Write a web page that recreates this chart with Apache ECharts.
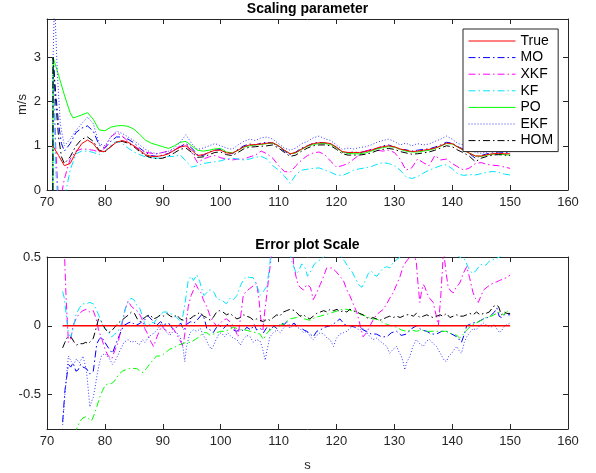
<!DOCTYPE html>
<html><head><meta charset="utf-8">
<script src="https://cdn.jsdelivr.net/npm/echarts@6/dist/echarts.min.js"></script>
<style>html,body{margin:0;padding:0;background:#fff}#c{width:596px;height:473px}</style>
</head><body><div id="c"></div>
<script>
// ---- tick labels ----
const xTickInterval = 10;
const yTopTicks = [0, 1, 2, 3];
const yErrTicks = [-0.5, 0, 0.5];
const legendNames = ['True', 'MO', 'XKF', 'KF', 'PO', 'EKF', 'HOM'];

// ---- top plot: scaling parameter [t, m/s] ----
const trueScale = [[71,1.0],[72,0.78],[73,0.55],[74,0.6],[75,0.85],[76,1.05],[77,1.13],[78,1.05],[79,0.88],[80,0.87],[81,0.98],[82,1.08],[83,1.12],[84,1.08],[85,1.0],[86,0.9],[87,0.8],[88,0.76],[89,0.76],[90,0.78],[91,0.82],[92,0.9],[93,0.97],[94,1.0],[95,0.9],[96,0.78],[97,0.8],[98,0.85],[99,0.9],[100,0.9],[101,0.84],[102,0.83],[103,0.9],[104,0.98],[105,1.02],[106,1.03],[107,1.04],[108,1.06],[109,1.07],[110,1.0],[111,0.9],[112,0.82],[113,0.85],[114,0.93],[115,1.0],[116,1.05],[117,1.07],[118,1.07],[119,1.05],[120,0.97],[121,0.87],[122,0.85],[123,0.85],[124,0.85],[125,0.87],[126,0.9],[127,0.95],[128,0.98],[129,1.0],[130,0.98],[131,0.93],[132,0.9],[133,0.87],[134,0.88],[135,0.9],[136,0.92],[137,0.95],[138,1.0],[139,1.06],[140,1.05],[141,0.97],[142,0.9],[143,0.83],[144,0.77],[145,0.77],[146,0.8],[147,0.82],[148,0.83],[149,0.82],[150,0.82]];
const moScale = [[71,0],[71.05,3.0],[71.5,2.2],[72,1.5],[72.5,1.05],[73,0.88],[74,1.05],[75,1.3],[76,1.4],[77,1.45],[78,1.33],[79,1.02],[80,0.95],[81,1.1],[82,1.2],[83,1.2],[84,1.15],[85,1.07],[86,0.95],[87,0.85],[88,0.78],[89,0.76],[90,0.79],[91,0.83],[92,0.9],[93,0.98],[94,1.05],[95,0.95],[96,0.8],[97,0.78],[98,0.86],[99,0.9],[100,0.92],[101,0.86],[102,0.82],[103,0.92],[104,1.0],[105,1.04],[106,1.02],[107,1.06],[108,1.08],[109,1.06],[110,0.98],[111,0.88],[112,0.8],[113,0.86],[114,0.95],[115,1.0],[116,1.06],[117,1.08],[118,1.06],[119,1.04],[120,0.96],[121,0.85],[122,0.84],[123,0.86],[124,0.84],[125,0.88],[126,0.92],[127,0.94],[128,1.0],[129,1.02],[130,0.97],[131,0.92],[132,0.91],[133,0.88],[134,0.9],[135,0.92],[136,0.93],[137,0.97],[138,1.02],[139,1.08],[140,1.06],[141,0.98],[142,0.92],[143,0.82],[144,0.72],[145,0.78],[146,0.82],[147,0.84],[148,0.86],[149,0.85],[150,0.84]];
const xkfScale = [[71,0],[71.05,3.0],[71.5,1.0],[72,-0.3],[72.5,-0.1],[73,0.25],[74,0.7],[75,0.88],[76,0.93],[77,0.92],[78,0.9],[79,0.86],[80,0.95],[81,1.2],[82,1.3],[83,1.22],[84,1.1],[85,1.0],[86,0.92],[87,0.86],[88,0.83],[89,0.82],[90,0.85],[91,0.88],[92,0.9],[93,1.0],[94,1.05],[95,0.85],[96,0.62],[97,0.7],[98,0.75],[99,0.78],[100,0.73],[101,0.7],[102,0.68],[103,0.7],[104,0.7],[105,0.75],[106,0.79],[107,0.88],[108,0.82],[109,0.72],[110,0.55],[111,0.42],[112,0.4],[113,0.55],[114,0.68],[115,0.78],[116,0.84],[117,0.86],[118,0.8],[119,0.65],[120,0.52],[121,0.55],[122,0.6],[123,0.7],[124,0.8],[125,0.88],[126,0.92],[127,0.9],[128,0.88],[129,0.9],[130,0.85],[131,0.7],[132,0.45],[133,0.5],[134,0.7],[135,0.62],[136,0.55],[137,0.78],[138,0.68],[139,0.7],[140,0.6],[141,0.52],[142,0.45],[143,0.5],[144,0.6],[145,0.62],[146,0.58],[147,0.56],[148,0.55],[149,0.52],[150,0.49]];
const kfScale = [[71,0],[71.05,3.0],[71.5,0.5],[72,-0.5],[73,-0.2],[74,0.45],[75,0.82],[76,0.88],[77,0.88],[78,0.85],[79,0.8],[80,0.88],[81,1.02],[82,1.1],[83,1.05],[84,0.95],[85,0.86],[86,0.8],[87,0.75],[88,0.73],[89,0.72],[90,0.73],[91,0.76],[92,0.76],[93,0.8],[94,0.65],[95,0.52],[96,0.55],[97,0.6],[98,0.62],[99,0.64],[100,0.66],[101,0.7],[102,0.72],[103,0.7],[104,0.68],[105,0.7],[106,0.74],[107,0.76],[108,0.7],[109,0.55],[110,0.45],[111,0.32],[112,0.15],[113,0.35],[114,0.45],[115,0.47],[116,0.49],[117,0.5],[118,0.45],[119,0.4],[120,0.34],[121,0.33],[122,0.38],[123,0.45],[124,0.48],[125,0.5],[126,0.53],[127,0.58],[128,0.62],[129,0.6],[130,0.55],[131,0.45],[132,0.3],[133,0.26],[134,0.3],[135,0.38],[136,0.45],[137,0.5],[138,0.55],[139,0.57],[140,0.48],[141,0.36],[142,0.33],[143,0.35],[144,0.34],[145,0.37],[146,0.4],[147,0.42],[148,0.4],[149,0.36],[150,0.34]];
const poScale = [[71,0],[71.05,3.0],[72,2.6],[73,2.15],[74,1.75],[74.5,1.63],[75,1.65],[76,1.7],[77,1.75],[78,1.6],[79,1.36],[80,1.34],[81,1.42],[82,1.45],[83,1.46],[84,1.44],[85,1.38],[86,1.26],[87,1.13],[88,1.06],[89,1.02],[90,0.98],[91,0.94],[92,1.0],[93,1.08],[94,1.1],[95,1.0],[96,0.9],[97,0.88],[98,0.9],[99,0.93],[100,0.94],[101,0.86],[102,0.84],[103,0.9],[104,0.97],[105,1.0],[106,1.02],[107,1.03],[108,1.05],[109,1.06],[110,1.0],[111,0.9],[112,0.82],[113,0.84],[114,0.92],[115,0.99],[116,1.03],[117,1.05],[118,1.05],[119,1.03],[120,0.96],[121,0.86],[122,0.83],[123,0.82],[124,0.82],[125,0.84],[126,0.88],[127,0.93],[128,0.96],[129,0.98],[130,0.97],[131,0.92],[132,0.88],[133,0.86],[134,0.86],[135,0.88],[136,0.9],[137,0.94],[138,0.99],[139,1.05],[140,1.04],[141,0.97],[142,0.9],[143,0.83],[144,0.77],[145,0.76],[146,0.79],[147,0.81],[148,0.81],[149,0.8],[150,0.79]];
const ekfScale = [[71,0],[71.05,3.0],[71.3,4.3],[71.8,2.6],[72.3,1.5],[73,1.0],[74,1.15],[75,1.35],[76,1.5],[77,1.65],[78,1.5],[79,1.05],[80,1.0],[81,1.2],[82,1.33],[83,1.28],[84,1.2],[85,1.12],[86,1.02],[87,0.92],[88,0.85],[89,0.82],[90,0.85],[91,0.88],[92,0.95],[93,1.08],[94,1.25],[95,1.05],[96,0.92],[97,0.95],[98,1.0],[99,1.05],[100,1.0],[101,0.95],[102,0.92],[103,1.02],[104,1.1],[105,1.15],[106,1.12],[107,1.18],[108,1.2],[109,1.15],[110,1.05],[111,0.95],[112,0.9],[113,0.95],[114,1.05],[115,1.1],[116,1.18],[117,1.22],[118,1.16],[119,1.12],[120,1.02],[121,0.92],[122,0.95],[123,0.93],[124,0.96],[125,0.98],[126,1.02],[127,1.08],[128,1.12],[129,1.15],[130,1.1],[131,1.02],[132,1.06],[133,1.0],[134,1.05],[135,1.02],[136,1.04],[137,1.1],[138,1.15],[139,1.22],[140,1.15],[141,1.05],[142,1.02],[143,0.92],[144,0.85],[145,0.83],[146,0.86],[147,0.88],[148,0.9],[149,0.88],[150,0.86]];
const homScale = [[71,0],[71.05,3.0],[71.5,2.0],[72,1.2],[72.5,0.75],[73,0.6],[74,0.75],[75,1.0],[76,1.15],[77,1.2],[78,1.1],[79,0.9],[80,0.86],[81,0.98],[82,1.08],[83,1.1],[84,1.06],[85,0.98],[86,0.87],[87,0.78],[88,0.73],[89,0.71],[90,0.72],[91,0.77],[92,0.84],[93,0.92],[94,0.95],[95,0.85],[96,0.74],[97,0.75],[98,0.8],[99,0.85],[100,0.86],[101,0.8],[102,0.78],[103,0.85],[104,0.93],[105,0.97],[106,0.98],[107,0.99],[108,1.0],[109,1.02],[110,0.95],[111,0.85],[112,0.76],[113,0.79],[114,0.88],[115,0.95],[116,1.0],[117,1.02],[118,1.02],[119,1.0],[120,0.92],[121,0.82],[122,0.79],[123,0.79],[124,0.79],[125,0.81],[126,0.84],[127,0.89],[128,0.92],[129,0.94],[130,0.92],[131,0.87],[132,0.84],[133,0.81],[134,0.82],[135,0.84],[136,0.86],[137,0.9],[138,0.95],[139,1.0],[140,0.98],[141,0.9],[142,0.84],[143,0.76],[144,0.64],[145,0.72],[146,0.76],[147,0.79],[148,0.8],[149,0.79],[150,0.78]];

// ---- bottom plot: error [t, error] ----
const trueErr = [[72.7,0],[150,0]];
const moErr = [[72.7,-0.7],[73.1,-0.47],[73.7,-0.28],[74.1,-0.3],[74.5,-0.27],[75,-0.33],[75.4,-0.32],[75.8,-0.28],[76.2,-0.3],[76.8,-0.31],[77.4,-0.35],[78,-0.33],[78.6,-0.13],[79,-0.1],[79.4,-0.08],[80,-0.12],[80.6,-0.16],[81.3,-0.2],[82,-0.12],[82.6,-0.06],[83.2,0],[84,0.02],[84.6,0.03],[85.3,0],[86.1,0.02],[86.8,0.04],[87.5,0.07],[88.2,0.04],[88.9,0],[89.6,0.03],[90.3,0.01],[91,0.02],[91.7,-0.02],[92.4,-0.01],[93.1,0.02],[93.6,-0.03],[94.1,0.01],[94.8,0.03],[95.4,0.02],[95.9,0.04],[96.7,0.08],[97.2,0.05],[97.6,-0.02],[98.2,-0.03],[98.7,-0.05],[99.3,-0.01],[99.8,0],[100.5,-0.02],[101.1,0.01],[101.6,0],[102.2,-0.03],[102.8,-0.04],[103.4,-0.02],[104,-0.04],[104.5,-0.01],[105.2,-0.03],[105.8,0.01],[106.2,-0.03],[106.9,-0.02],[107.4,-0.05],[108,-0.01],[108.6,-0.03],[109.2,0],[109.7,-0.02],[110.4,0.02],[111,0.01],[111.4,0.03],[112,0],[112.7,0.02],[113.1,0],[113.7,0.01],[114.3,-0.03],[114.9,-0.04],[115.5,-0.06],[116,-0.08],[116.6,-0.04],[117.2,-0.03],[118,-0.01],[118.9,0],[119.7,0.02],[120.6,0.05],[121.4,0.01],[122.3,0],[123.2,-0.01],[124,0],[124.6,-0.03],[125.2,-0.04],[126,-0.06],[126.9,-0.06],[127.8,-0.08],[128.7,-0.08],[129.5,-0.05],[130.4,-0.04],[131.2,-0.07],[132.1,-0.06],[133,-0.02],[133.8,0],[134.7,-0.03],[135.6,-0.04],[136.4,-0.06],[137.3,-0.06],[138.2,-0.04],[139,-0.04],[139.9,-0.06],[140.8,-0.08],[141.6,-0.12],[142.1,-0.06],[142.5,0],[143,0.01],[143.6,0.02],[144.5,0.03],[145.4,0.05],[146.1,0.06],[146.8,0.08],[147.3,0.1],[147.7,0.13],[148.1,0.07],[148.5,0.06],[149,0.08],[149.4,0.08],[150,0.08]];
const xkfErr = [[72.7,0.8],[73,0.55],[73.3,0.2],[73.7,-0.12],[74.1,-0.1],[74.5,0],[75,0.05],[75.6,0.09],[76.2,0.11],[76.8,0.12],[77.4,0.1],[78,0.11],[78.5,0.05],[78.9,-0.03],[79.5,-0.1],[80.1,-0.18],[80.6,-0.22],[81.2,-0.24],[81.7,-0.18],[82.3,-0.12],[82.9,0],[83.5,0.12],[84,0.18],[84.6,0.14],[85.2,0.12],[85.8,0.1],[86.4,0.05],[86.9,-0.02],[87.5,-0.07],[88,-0.12],[88.4,-0.15],[89,-0.08],[89.8,0],[90.4,-0.03],[91.2,-0.05],[91.8,-0.02],[92.4,-0.06],[92.9,-0.1],[93.5,-0.15],[94,0],[94.4,0.14],[94.9,0.22],[95.3,0.26],[95.6,0.31],[96.1,0.27],[96.6,0.24],[97,0.19],[97.6,0.14],[98.1,0.08],[98.4,0.05],[98.9,0.02],[99.3,0],[99.8,0.01],[100.4,0.04],[101,0.05],[101.6,0.03],[102.2,0],[102.6,-0.04],[103,-0.08],[103.4,0.05],[103.9,0.22],[104.4,0.25],[105,0.27],[105.6,0.29],[106.2,0.31],[106.6,0.2],[107,0.02],[107.3,-0.03],[107.6,0.1],[107.9,0.2],[108.3,0.35],[108.8,0.52],[109.5,0.8],[110.5,0.9],[111.5,0.85],[112.3,0.65],[112.6,0.45],[113,0.36],[113.4,0.3],[113.7,0.28],[114.3,0.26],[114.9,0.3],[115.5,0.28],[116,0.19],[116.6,0.24],[117.2,0.3],[117.8,0.36],[118.3,0.42],[118.6,0.43],[119.2,0.42],[119.8,0.4],[120.6,0.36],[121.2,0.33],[121.8,0.26],[122.3,0.22],[122.9,0.16],[123.5,0.1],[124,0.02],[124.6,-0.08],[125.2,-0.05],[125.8,0],[126.3,0.04],[126.9,0.08],[127.5,0.1],[128.1,0.12],[128.7,0.16],[129.2,0.2],[129.8,0.24],[130.4,0.3],[131,0.36],[131.5,0.43],[132.1,0.47],[132.7,0.5],[133.2,0.55],[133.8,0.46],[134.1,0.3],[134.4,0.17],[134.7,0.25],[135,0.3],[135.3,0.28],[135.6,0.24],[136.1,0.2],[136.7,0.17],[137.2,0.08],[137.6,0],[138,0.2],[138.5,0.55],[138.9,0.4],[139.3,0.28],[139.8,0.25],[140.2,0.24],[140.7,0.28],[141.3,0.31],[141.9,0.38],[142.5,0.43],[143,0.35],[143.6,0.24],[144,0.2],[144.5,0.17],[145,0.22],[145.4,0.26],[146,0.28],[146.6,0.3],[147.1,0.31],[147.7,0.32],[148.2,0.33],[148.8,0.34],[149.4,0.35],[150,0.37]];
const kfErr = [[72.7,0.25],[73,0.2],[73.4,0.05],[73.7,-0.06],[74.1,-0.08],[74.5,-0.02],[75,0.08],[75.6,0.13],[76.2,0.16],[76.8,0.16],[77.4,0.17],[78,0.16],[78.5,0.12],[79.1,0.06],[79.6,0.01],[80.1,-0.02],[80.6,-0.05],[81.2,-0.08],[81.7,-0.06],[82.3,-0.04],[82.9,0.02],[83.5,0.12],[84,0.17],[84.5,0.2],[85,0.19],[85.5,0.15],[86,0.13],[86.5,0.07],[86.9,0.01],[87.5,-0.01],[88,0.03],[88.4,0.02],[89,0.05],[89.6,0.08],[90.1,0.1],[90.7,0.1],[91.2,0.09],[91.8,0.08],[92.4,0.06],[92.9,0.04],[93.3,0.03],[93.8,0.15],[94.4,0.33],[94.9,0.36],[95.3,0.33],[95.9,0.37],[96.4,0.32],[96.8,0.26],[97.1,0.22],[97.6,0.24],[98,0.26],[98.4,0.26],[98.9,0.24],[99.3,0.2],[99.8,0.19],[100.4,0.18],[101,0.16],[101.6,0.2],[102.2,0.19],[102.8,0.22],[103.4,0.29],[103.9,0.33],[104.5,0.36],[105,0.35],[105.6,0.35],[106.2,0.3],[106.8,0.22],[107.4,0.25],[108,0.29],[108.5,0.45],[109,0.7],[110,0.85],[111,0.8],[111.8,0.6],[112.2,0.48],[112.7,0.42],[113.1,0.38],[113.5,0.4],[114,0.45],[114.6,0.42],[115,0.36],[115.6,0.4],[116.2,0.45],[116.8,0.47],[117.2,0.48],[117.8,0.5],[118.3,0.52],[119,0.55],[120,0.55],[120.8,0.5],[121.4,0.47],[122,0.43],[122.6,0.4],[123.2,0.35],[123.8,0.3],[124.4,0.28],[125,0.33],[125.5,0.38],[126,0.4],[126.5,0.37],[127,0.36],[127.5,0.39],[128.1,0.42],[128.7,0.43],[129.2,0.42],[129.8,0.46],[130.4,0.48],[131,0.5],[131.5,0.52],[133,0.58],[135,0.6],[137,0.56],[138.4,0.52],[139,0.55],[140,0.53],[141.3,0.5],[142.2,0.48],[142.8,0.42],[143.5,0.38],[144.1,0.4],[144.6,0.43],[145.2,0.45],[145.8,0.44],[146.4,0.47],[147,0.48],[147.6,0.49],[148.2,0.5],[148.8,0.52],[149.4,0.55],[150,0.56]];
const poErr = [[72.7,-1.2],[73.5,-1.05],[74.3,-0.9],[75.1,-0.75],[75.6,-0.7],[76.2,-0.67],[76.8,-0.66],[77.3,-0.68],[77.7,-0.69],[78.2,-0.64],[78.6,-0.59],[79.1,-0.52],[79.6,-0.47],[80.1,-0.43],[80.6,-0.42],[81.1,-0.42],[81.5,-0.41],[82,-0.38],[82.5,-0.35],[83,-0.33],[83.6,-0.32],[84.3,-0.31],[84.9,-0.31],[85.5,-0.31],[86.1,-0.33],[86.6,-0.34],[87.2,-0.31],[87.7,-0.28],[88.3,-0.25],[88.9,-0.22],[89.4,-0.22],[90,-0.21],[90.6,-0.19],[91.2,-0.17],[91.9,-0.16],[92.7,-0.14],[93.4,-0.13],[94.1,-0.12],[94.8,-0.12],[95.6,-0.1],[96.3,-0.08],[97,-0.05],[97.6,-0.05],[98.2,-0.07],[98.8,-0.06],[99.3,-0.05],[100,-0.04],[100.6,-0.04],[101.4,-0.03],[102.2,-0.01],[102.8,-0.02],[103.4,-0.03],[104.2,-0.03],[105.1,-0.04],[106,-0.05],[106.8,-0.06],[107.4,-0.1],[107.9,-0.06],[108.5,-0.03],[109.3,-0.01],[110.2,0],[111.1,0.02],[112,0.05],[113.1,0.06],[113.7,0.07],[114.5,0.05],[115.4,0.04],[116.3,0.06],[117.2,0.07],[118,0.08],[118.9,0.09],[119.5,0.1],[120.3,0.11],[121,0.12],[121.8,0.12],[122.6,0.11],[123.5,0.1],[124.3,0.08],[125.2,0.07],[126,0.05],[126.9,0.05],[127.8,0.03],[128.7,0.01],[129.5,0],[130.4,-0.01],[131.2,-0.03],[132.1,-0.04],[133,-0.03],[133.8,-0.04],[134.7,-0.03],[135.6,-0.04],[136.7,-0.04],[137.8,-0.04],[139,-0.04],[140.1,-0.06],[140.8,-0.07],[141.3,-0.09],[141.9,-0.06],[142.5,-0.03],[143.3,0],[144.2,0.02],[145,0.04],[145.8,0.06],[146.7,0.07],[147.7,0.09],[148.2,0.1],[148.8,0.08],[149.4,0.1],[150,0.12]];
const ekfErr = [[72.7,-0.72],[73.1,-0.5],[73.5,-0.3],[73.7,-0.22],[74.2,-0.26],[74.6,-0.28],[75.1,-0.24],[75.6,-0.27],[76.2,-0.22],[76.5,-0.27],[76.8,-0.32],[77.1,-0.45],[77.4,-0.59],[77.7,-0.55],[78,-0.52],[78.3,-0.45],[78.6,-0.37],[79,-0.28],[79.4,-0.22],[80,-0.2],[80.8,-0.24],[81.3,-0.28],[81.7,-0.26],[82.2,-0.22],[82.6,-0.18],[83.3,-0.12],[84,-0.1],[84.6,-0.12],[85.2,-0.11],[85.9,-0.14],[86.5,-0.1],[86.9,-0.12],[87.6,-0.08],[88.2,-0.06],[88.6,-0.05],[89.2,-0.02],[89.8,0.02],[90.5,-0.04],[91.2,-0.07],[91.8,-0.04],[92.4,-0.05],[93,-0.08],[93.5,-0.16],[93.8,-0.26],[94.1,-0.15],[94.7,-0.05],[95.3,-0.03],[95.9,-0.04],[96.5,-0.02],[97,-0.07],[97.5,-0.1],[97.9,-0.14],[98.4,-0.17],[98.7,-0.15],[99.2,-0.1],[99.7,-0.06],[100.1,-0.05],[100.7,-0.08],[101.2,-0.05],[101.6,-0.07],[102.2,-0.09],[102.8,-0.1],[103.1,-0.12],[103.4,-0.14],[103.9,-0.1],[104.5,-0.07],[105.1,-0.08],[105.6,-0.12],[106.2,-0.1],[106.8,-0.11],[107.2,-0.16],[107.7,-0.25],[108,-0.18],[108.5,-0.08],[109.1,-0.05],[109.7,-0.03],[110.3,-0.05],[110.8,-0.02],[111.5,0.01],[112,-0.02],[112.6,0.02],[113.1,-0.01],[113.7,-0.02],[114.3,-0.05],[114.9,-0.04],[115.5,-0.08],[116,-0.1],[116.6,-0.07],[117.2,-0.05],[117.8,-0.06],[118.4,-0.09],[118.9,-0.1],[119.5,-0.15],[120,-0.09],[120.6,-0.06],[121.2,-0.05],[121.8,-0.04],[122.3,-0.02],[122.9,0],[123.5,-0.02],[124,-0.03],[124.6,-0.02],[125.2,-0.05],[125.8,-0.08],[126.3,-0.1],[126.9,-0.09],[127.5,-0.11],[128.1,-0.13],[128.7,-0.15],[129.2,-0.2],[129.8,-0.17],[130.4,-0.15],[130.8,-0.19],[131.2,-0.22],[131.5,-0.26],[131.8,-0.32],[132.1,-0.27],[132.7,-0.22],[133.2,-0.15],[133.8,-0.1],[134.4,-0.13],[135,-0.15],[135.6,-0.11],[136.1,-0.1],[136.7,-0.13],[137.3,-0.15],[137.8,-0.19],[138.2,-0.22],[138.6,-0.25],[139,-0.26],[139.4,-0.22],[139.9,-0.2],[140.4,-0.17],[140.8,-0.15],[141.2,-0.18],[141.6,-0.2],[142.1,-0.12],[142.5,-0.08],[143,-0.05],[143.6,-0.02],[144.1,-0.03],[144.7,0],[145.4,0.02],[146.1,0],[146.7,-0.01],[147.3,0.01],[147.8,-0.03],[148.2,-0.05],[148.6,-0.03],[149.1,0],[149.6,0.01],[150,0.02]];
const homErr = [[72.7,-0.16],[73.1,-0.12],[73.4,-0.09],[73.8,-0.08],[74.3,-0.09],[74.7,-0.12],[75.1,-0.14],[75.6,-0.13],[76.2,-0.13],[76.7,-0.12],[77.1,-0.13],[77.6,-0.11],[78,-0.09],[78.4,-0.03],[78.9,0.05],[79.4,0.03],[80,-0.02],[80.6,-0.05],[81.1,-0.04],[81.7,-0.01],[82.3,0.02],[82.9,0.04],[83.5,0.06],[84.1,0.08],[84.6,0.1],[85.1,0.09],[85.6,0.05],[86.1,0.03],[86.6,0.05],[87.2,0.07],[87.8,0.08],[88.4,0.05],[89,0.06],[89.6,0.08],[90.1,0.07],[90.7,0.09],[91.3,0.07],[91.9,0.06],[92.4,0.08],[93,0.05],[93.6,0.04],[94.2,0.06],[94.7,0.05],[95.3,0.07],[95.9,0.08],[96.4,0.1],[97,0.07],[97.6,0.06],[98.2,0.04],[98.7,0.06],[99.3,0.1],[99.8,0.11],[100.4,0.1],[101,0.08],[101.6,0.09],[102.2,0.07],[102.8,0.05],[103.4,0.06],[104,0.08],[104.5,0.07],[105.1,0.06],[105.7,0.04],[106.2,0.05],[106.8,0.04],[107.4,0.03],[108,0.05],[108.5,0.04],[109.1,0.06],[109.7,0.08],[110.2,0.07],[110.8,0.1],[111.4,0.11],[112,0.12],[112.3,0.13],[112.8,0.11],[113.1,0.1],[113.7,0.07],[114.3,0.08],[114.9,0.06],[115.4,0.05],[116,0.07],[116.6,0.09],[117.2,0.1],[117.8,0.11],[118.4,0.1],[118.9,0.12],[119.5,0.11],[120.1,0.12],[120.6,0.1],[121.2,0.11],[121.8,0.1],[122.3,0.12],[122.9,0.11],[123.5,0.1],[124,0.09],[124.6,0.08],[125.2,0.06],[125.8,0.05],[126.3,0.06],[126.9,0.05],[127.5,0.04],[128.1,0.05],[128.6,0.06],[129.2,0.07],[129.8,0.06],[130.4,0.07],[131,0.06],[131.5,0.07],[132.1,0.08],[132.7,0.08],[133.3,0.07],[133.8,0.09],[134.4,0.06],[135,0.07],[135.6,0.08],[136.1,0.07],[136.7,0.06],[137.3,0.07],[137.9,0.08],[138.4,0.07],[139,0.09],[139.6,0.06],[140.2,0.07],[140.8,0.08],[141.3,0.07],[141.9,0.07],[142.5,0.08],[143,0.09],[143.6,0.08],[144.2,0.1],[144.8,0.08],[145.4,0.09],[145.8,0.09],[146.4,0.1],[147.1,0.14],[147.6,0.15],[148,0.14],[148.5,0.08],[149,0.1],[149.4,0.09],[150,0.09]];

// ---- styling ----
const FONT = '"Liberation Sans", Arial, sans-serif';
const AX = '#262626';
const DASHDOT = [7, 3, 1.5, 3];
const DOT = [1, 2];
const SOLID = 'solid';

function line(name, data, idx, color, type, width, z) {
  return {
    name: name, type: 'line', data: data, xAxisIndex: idx, yAxisIndex: idx,
    symbol: 'none', showSymbol: false, animation: false, z: z || 2,
    lineStyle: { color: color, type: type, width: width || 1 },
    itemStyle: { color: color }, clip: true
  };
}

function xAx(gridIndex, pos, showLabels, name) {
  return {
    type: 'value', gridIndex: gridIndex, position: pos, min: 70, max: 160, interval: xTickInterval,
    axisLine: { show: true, onZero: false, lineStyle: { color: AX, width: 1 } },
    axisTick: { show: true, inside: true, length: 5, lineStyle: { color: AX } },
    axisLabel: { show: showLabels, color: AX, fontSize: 13, fontFamily: FONT, margin: 6 },
    splitLine: { show: false },
    name: name || '', nameLocation: 'middle', nameGap: 30, nameMoveOverlap: false,
    nameTextStyle: { color: AX, fontSize: 13, fontFamily: FONT }
  };
}
function yAx(gridIndex, pos, min, max, ticks, showLabels, name) {
  return {
    type: 'value', gridIndex: gridIndex, position: pos, min: min, max: max,
    axisLine: { show: true, onZero: false, lineStyle: { color: AX, width: 1 } },
    axisTick: { show: true, inside: true, length: 5, lineStyle: { color: AX }, customValues: ticks },
    axisLabel: { show: showLabels, color: AX, fontSize: 13, fontFamily: FONT, margin: 6, customValues: ticks },
    splitLine: { show: false },
    name: name || '', nameLocation: 'middle', nameGap: 18, nameRotate: 90, nameMoveOverlap: false,
    nameTextStyle: { color: AX, fontSize: 13, fontFamily: FONT }
  };
}

const option = {
  backgroundColor: '#fff',
  animation: false,
  grid: [
    { left: 47, top: 19, width: 521, height: 171, containLabel: false },
    { left: 47, top: 257, width: 521, height: 172, containLabel: false }
  ],
  xAxis: [
    xAx(0, 'bottom', true), xAx(0, 'top', false),
    xAx(1, 'bottom', true, 's'), xAx(1, 'top', false)
  ],
  yAxis: [
    yAx(0, 'left', 0, 3.87, yTopTicks, true, 'm/s'), yAx(0, 'right', 0, 3.87, yTopTicks, false),
    yAx(1, 'left', -0.75, 0.5, yErrTicks, true), yAx(1, 'right', -0.75, 0.5, yErrTicks, false)
  ],
  legend: {
    data: legendNames, orient: 'vertical', left: 463, top: 29,
    backgroundColor: '#fff', borderColor: AX, borderWidth: 1,
    padding: [5, 5, 4, 5], itemWidth: 47, itemHeight: 14, itemGap: 2.6,
    itemStyle: { opacity: 0, borderWidth: 0 },
    lineStyle: { width: 1 },
    textStyle: { color: '#000', fontSize: 14, fontFamily: FONT },
    selectedMode: false
  },
  graphic: [
    { type: 'text', x: 307.5, y: 9, style: { text: 'Scaling parameter', font: 'bold 14px ' + FONT, fill: '#000', align: 'center', verticalAlign: 'middle' } },
    { type: 'text', x: 307.5, y: 245, style: { text: 'Error plot Scale', font: 'bold 14px ' + FONT, fill: '#000', align: 'center', verticalAlign: 'middle' } }
  ],
  series: [
    line('True', trueScale, 0, '#ff0000', SOLID, 1, 3),
    line('MO', moScale, 0, '#0000ff', DASHDOT),
    line('XKF', xkfScale, 0, '#ff00ff', DASHDOT),
    line('KF', kfScale, 0, '#00e5ff', DASHDOT),
    line('PO', poScale, 0, '#00ff00', SOLID),
    line('EKF', ekfScale, 0, '#3a3aff', DOT),
    line('HOM', homScale, 0, '#000000', DASHDOT),

    line('eMO', moErr, 2, '#0000ff', DASHDOT),
    line('eXKF', xkfErr, 2, '#ff00ff', DASHDOT),
    line('eKF', kfErr, 2, '#00e5ff', DASHDOT),
    line('ePO', poErr, 2, '#00ff00', DASHDOT),
    line('eEKF', ekfErr, 2, '#3a3aff', DOT),
    line('eHOM', homErr, 2, '#000000', DASHDOT),
    line('eTrue', trueErr, 2, '#ff0000', SOLID, 1.5, 4)
  ]
};
const chart = echarts.init(document.getElementById('c'), null, { renderer: 'canvas' });
chart.setOption(option);
</script></body></html>
